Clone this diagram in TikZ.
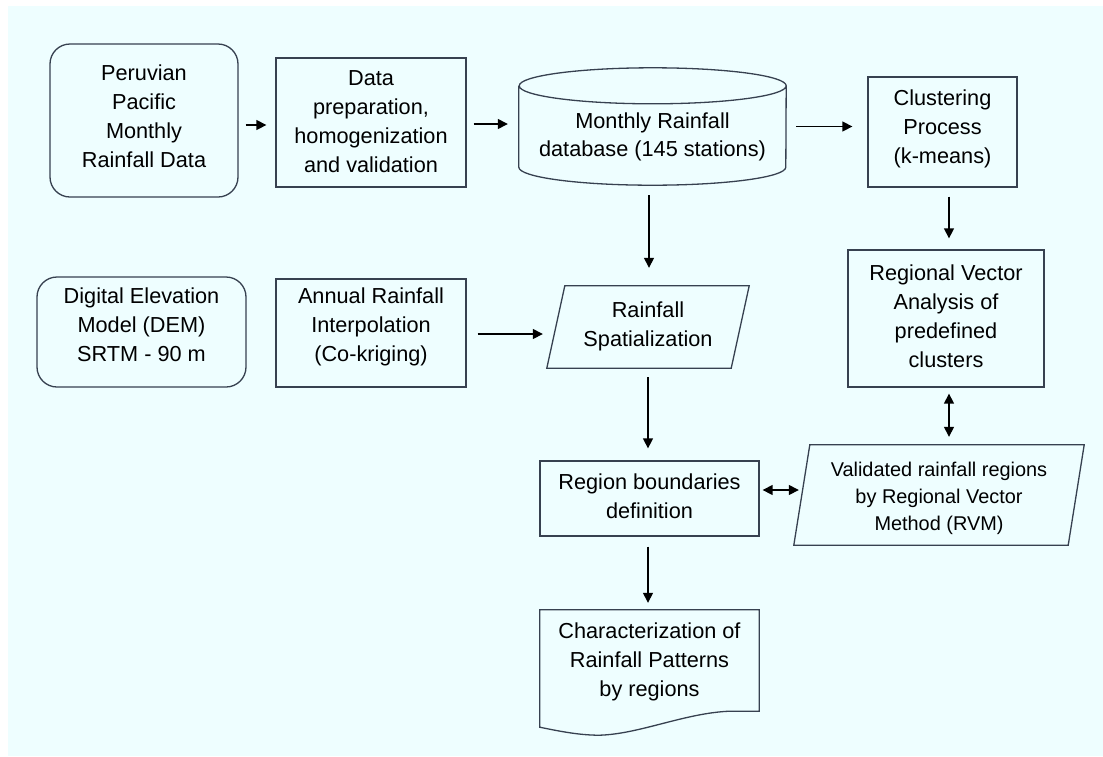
\documentclass[tikz,border=0pt]{standalone}
\usepackage{fontspec}
\setmainfont{Liberation Sans}
\usetikzlibrary{arrows.meta,calc}
\definecolor{bgc}{RGB}{238,254,255}
\definecolor{edge}{RGB}{55,65,80}
\tikzset{
  tb/.style 2 args={execute at begin node={\rule{0pt}{#1}}, execute at end node={\rule[-#2]{0pt}{#2}}},
  shapebase/.style={inner sep=2pt, align=center, font=\fontsize{21.7}{29}\selectfont, text=black, tb={0pt}{5pt}},
  box/.style={shapebase, draw=edge, line width=1.3pt, rectangle},
  rbox/.style={box, rounded corners=20pt},
  ghost/.style={shapebase, draw=none, rectangle},
  outline/.style={draw=edge, line width=1.3pt, line join=miter},
  arr/.style={-{Triangle[length=10pt,width=10pt]}, line width=1.4pt, black},
  darr/.style={{Triangle[length=10pt,width=10pt]}-{Triangle[length=10pt,width=10pt]}, line width=1.4pt, black},
}
\begin{document}
\begin{tikzpicture}[x=1pt,y=-1pt]
\useasboundingbox (0,0) rectangle (1103,756);
\fill[white] (0,0) rectangle (1103,756);
\fill[bgc] (8,6) rectangle (1103,756);

% nodes
\node[rbox, minimum width=188pt, minimum height=153pt, tb={0pt}{8pt}] (pv) at (144,120.5) {Peruvian\\Pacific\\Monthly\\Rainfall Data};
\node[box, minimum width=190pt, minimum height=129pt, tb={105pt}{0pt}] (dp) at (371,122.5) {Data\\preparation,\\homogenization\\and validation};
\node[ghost, font=\fontsize{21.7}{28}\selectfont, minimum width=267pt, minimum height=117pt, tb={64pt}{5pt}] (cyl) at (652.5,126.5) {Monthly Rainfall\\database (145 stations)};
\draw[outline] ([yshift=-18pt]cyl.north west) -- ([yshift=18pt]cyl.south west)
  arc[start angle=180,end angle=360,x radius=133.5pt,y radius=18pt]
  -- ([yshift=-18pt]cyl.north east)
  arc[start angle=0,end angle=180,x radius=133.5pt,y radius=18pt]
  arc[start angle=180,end angle=360,x radius=133.5pt,y radius=18pt];
\node[box, minimum width=149pt, minimum height=110pt, tb={0pt}{11pt}] (cl) at (942.5,132) {Clustering\\Process\\(k-means)};
\node[box, minimum width=196pt, minimum height=137pt, tb={0pt}{5pt}] (rva) at (946,318.5) {Regional Vector\\Analysis of\\predefined\\clusters};
\node[rbox, minimum width=209pt, minimum height=110pt, tb={0pt}{15pt}] (dem) at (141.5,332) {Digital Elevation\\Model (DEM)\\SRTM - 90 m};
\node[box, minimum width=190pt, minimum height=108pt, tb={0pt}{16pt}] (ann) at (371,333) {Annual Rainfall\\Interpolation\\(Co-kriging)};
\node[ghost, minimum width=202pt, minimum height=82pt, tb={0pt}{4pt}] (rs) at (648,327) {Rainfall\\Spatialization};
\draw[outline] ([xshift=18pt]rs.north west) -- (rs.north east) -- ([xshift=-18pt]rs.south east) -- (rs.south west) -- cycle;
\node[box, minimum width=219pt, minimum height=75pt, tb={0pt}{4pt}] (rb) at (649.5,498.5) {Region boundaries\\definition};
\node[ghost, font=\fontsize{19.9}{27}\selectfont, minimum width=290pt, minimum height=100pt, tb={76.5pt}{4.2pt}] (val) at (939,495) {Validated rainfall regions\\by Regional Vector\\Method (RVM)};
\draw[outline] ([xshift=16pt]val.north west) -- (val.north east) -- ([xshift=-16pt]val.south east) -- (val.south west) -- cycle;
\node[ghost, minimum width=219pt, minimum height=125pt, tb={0pt}{25pt}] (cz) at (649.5,672.5) {Characterization of\\Rainfall Patterns\\by regions};
\draw[outline] (cz.north west) -- (cz.north east) -- ([yshift=24pt]cz.south east)
  -- ([xshift=-30pt,yshift=24pt]cz.south east)
  .. controls ([xshift=-75pt,yshift=22pt]cz.south east) and ([xshift=-120pt,yshift=1pt]cz.south east) .. ([xshift=-160pt]cz.south east)
  .. controls ([xshift=-180pt]cz.south east) and ([xshift=-200pt,yshift=4pt]cz.south east) .. ([yshift=8pt]cz.south west)
  -- cycle;

% connectors
\coordinate (a1) at ($(pv.east)+(0,4.5)$);
\draw[arr, shorten <=7pt, shorten >=9pt] (a1) -- (a1 -| dp.west);
\coordinate (a2) at ($(dp.east)+(0,1.5)$);
\draw[arr, shorten <=7pt, shorten >=11pt] (a2) -- (a2 -| cyl.west);
\draw[arr, shorten <=10pt, shorten >=15pt] (cyl.east) -- (cyl.east -| cl.west);
\coordinate (a4) at ($(cl.south)+(6.5,0)$);
\draw[arr, shorten <=9pt, shorten >=11pt] (a4) -- (a4 |- rva.north);
\coordinate (a5) at ($(cyl.south)+(-3.5,0)$);
\draw[arr, shorten <=10pt, shorten >=18pt] (a5) -- (a5 |- rs.north);
\coordinate (a6) at ($(ann.east)+(0,1)$);
\draw[arr, shorten <=11pt, shorten >=4pt] (a6) -- (a6 -| rs.west);
\draw[arr, shorten <=9pt, shorten >=12pt] (rs.south) -- (rs.south |- rb.north);
\coordinate (a8) at ($(rb.south)+(-1.5,0)$);
\draw[arr, shorten <=10pt, shorten >=7pt] (a8) -- (a8 |- cz.north);
\coordinate (a9) at ($(rb.east)+(0,-8.5)$);
\draw[darr, shorten <=3pt, shorten >=-5pt] (a9) -- (a9 -| val.west);
\coordinate (a10) at ($(rva.south)+(3,0)$);
\draw[darr, shorten <=6pt, shorten >=8pt] (a10) -- (a10 |- val.north);
\end{tikzpicture}
\end{document}
